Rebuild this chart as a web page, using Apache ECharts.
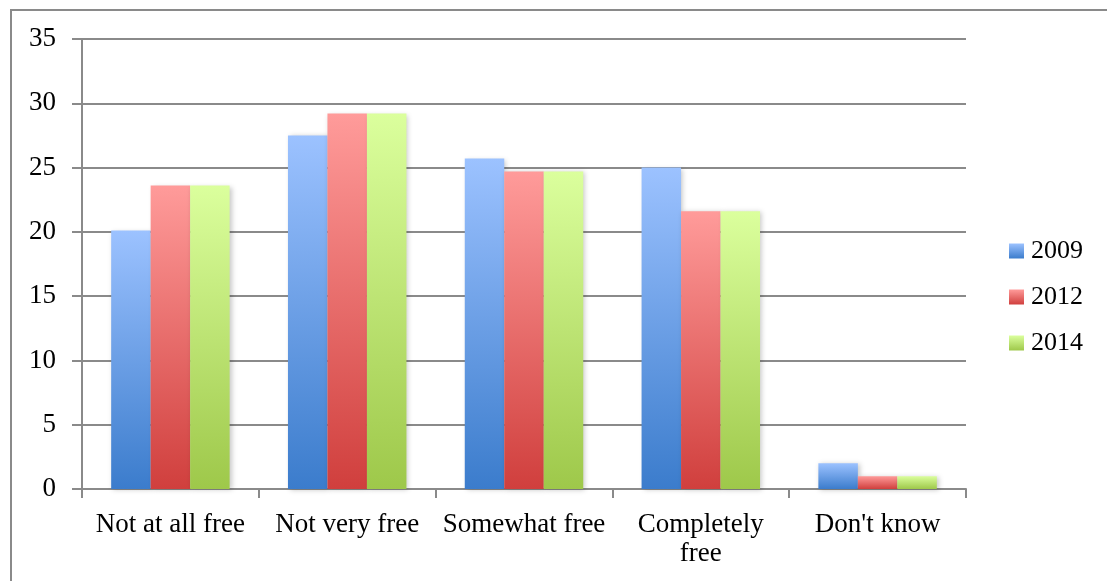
<!DOCTYPE html>
<html>
<head>
<meta charset="utf-8">
<style>
  html, body { margin: 0; padding: 0; background: #fff; }
  #chart { width: 1107px; height: 581px; }
</style>
<script src="https://cdn.jsdelivr.net/npm/echarts@6/dist/echarts.min.js"></script>
</head>
<body>
<div id="chart"></div>
<script>
// Survey answers by year
const categories = ['Not at all free', 'Not very free', 'Somewhat free', 'Completely\nfree', "Don't know"];
const years = ['2009', '2012', '2014'];
const values2009 = [20.1, 27.5, 25.7, 25.0, 2.0];
const values2012 = [23.6, 29.2, 24.7, 21.6, 1.0];
const values2014 = [23.6, 29.2, 24.7, 21.6, 1.0];
const yTicks = [0, 5, 10, 15, 20, 25, 30, 35];

const seriesValues = [values2009, values2012, values2014];
const palettes = [
  ['#9cc2ff', '#3b7ccc'],
  ['#ff9b9a', '#d03f3d'],
  ['#dbff9d', '#9ec84a']
];

const fontFamily = '"Liberation Serif", "DejaVu Serif", serif';

function grad(top, bottom) {
  return new echarts.graphic.LinearGradient(0, 0, 0, 1, [
    { offset: 0, color: top },
    { offset: 1, color: bottom }
  ]);
}

const chart = echarts.init(document.getElementById('chart'), null, { renderer: 'canvas' });

chart.setOption({
  animation: false,
  backgroundColor: '#fff',
  textStyle: { fontFamily: fontFamily },
  graphic: [{
    type: 'rect',
    shape: { x: 11, y: 10, width: 1200, height: 700 },
    style: { fill: 'none', stroke: '#8a8a8a', lineWidth: 2 },
    z: -1
  }],
  grid: { left: 82, right: 141, top: 39, bottom: 92 },
  legend: {
    orient: 'vertical',
    left: 1004,
    top: 233,
    itemWidth: 15,
    itemHeight: 15,
    itemGap: 20,
    icon: 'rect',
    textStyle: { fontFamily: fontFamily, fontSize: 26, color: '#000', padding: [0, 0, 0, 2] },
    data: years
  },
  xAxis: {
    type: 'category',
    data: categories,
    axisLine: { lineStyle: { color: '#8a8a8a', width: 2 } },
    axisTick: { show: true, length: 9, lineStyle: { color: '#8a8a8a', width: 2 } },
    axisLabel: {
      color: '#000', fontSize: 27, fontFamily: fontFamily,
      margin: 21, lineHeight: 29, interval: 0
    }
  },
  yAxis: {
    type: 'value',
    min: 0,
    max: 35,
    interval: 5,
    axisLine: { show: true, lineStyle: { color: '#8a8a8a', width: 2 } },
    axisTick: { show: true, inside: false, length: 10, lineStyle: { color: '#8a8a8a', width: 2 } },
    axisLabel: {
      color: '#000', fontSize: 27, fontFamily: fontFamily, margin: 26,
      formatter: function (v) { return yTicks.indexOf(v) >= 0 ? String(v) : ''; }
    },
    splitLine: { show: true, lineStyle: { color: '#8a8a8a', width: 2 } }
  },
  series: years.map(function (name, i) {
    return {
      name: name,
      type: 'bar',
      data: seriesValues[i],
      barGap: '0%',
      barCategoryGap: '33%',
      itemStyle: {
        color: grad(palettes[i][0], palettes[i][1]),
        shadowColor: 'rgba(0,0,0,0.22)',
        shadowBlur: 5,
        shadowOffsetX: 2,
        shadowOffsetY: 1
      }
    };
  })
});
</script>
</body>
</html>
